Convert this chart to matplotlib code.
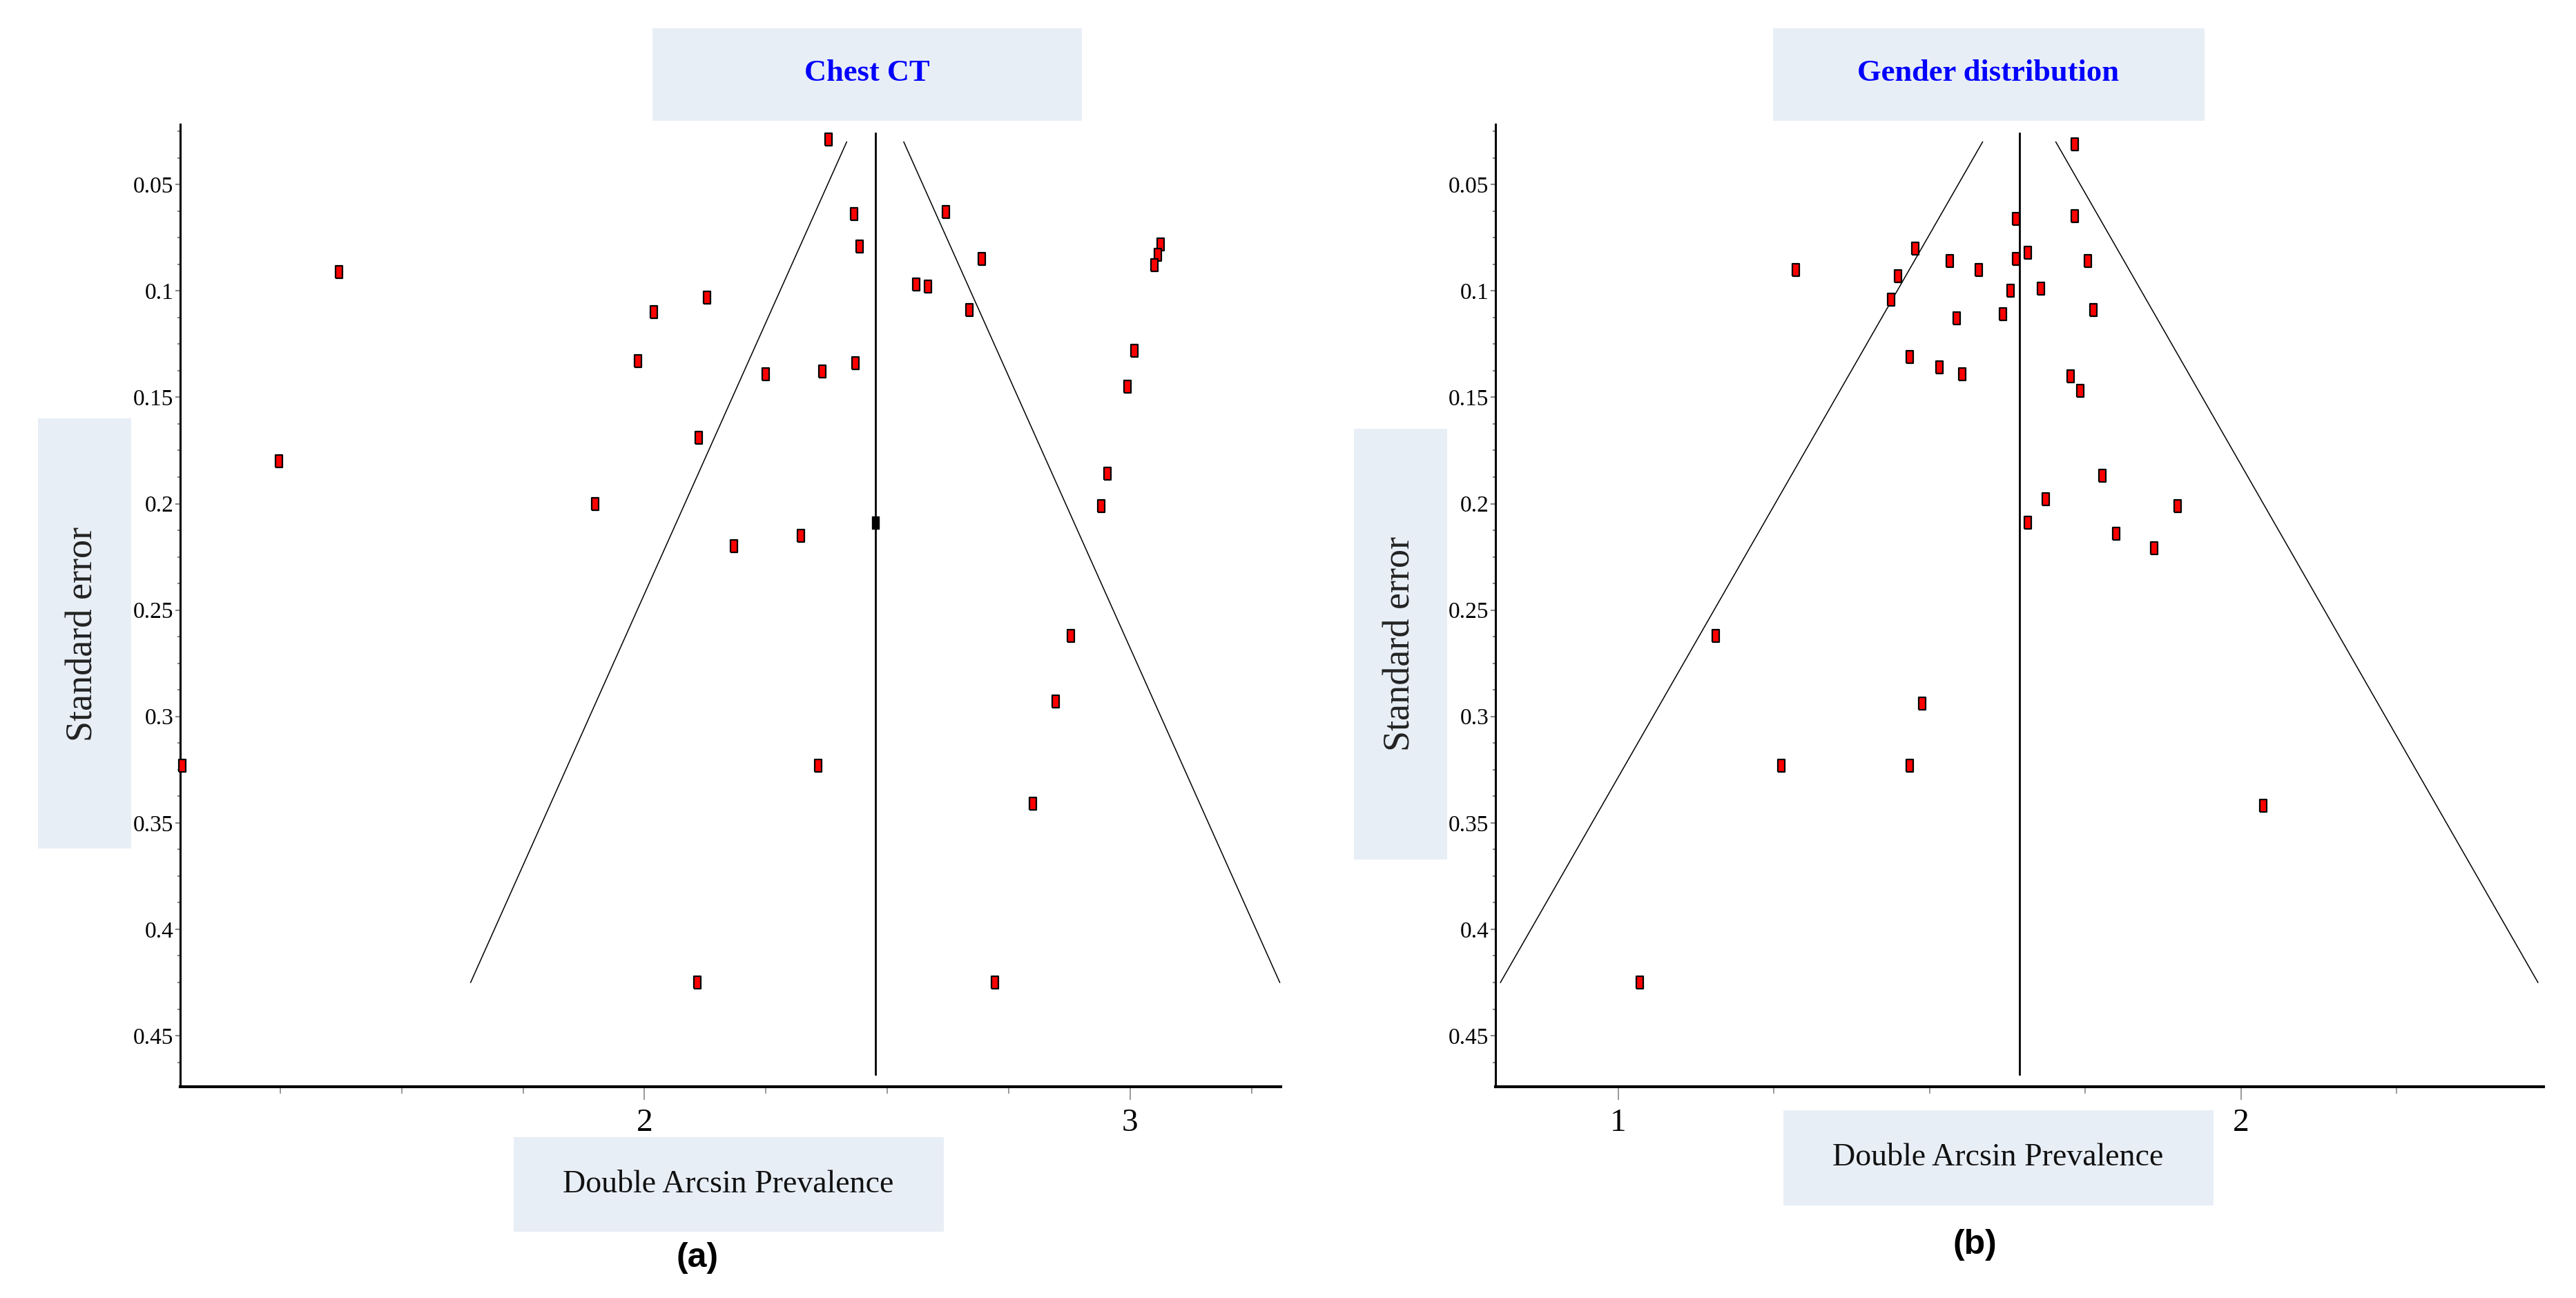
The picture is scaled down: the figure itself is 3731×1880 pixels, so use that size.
import numpy as np
import matplotlib
matplotlib.use("Agg")
import matplotlib.pyplot as plt
from matplotlib.patches import Rectangle
from matplotlib.ticker import MultipleLocator, FixedLocator, FixedFormatter

# ---------------- data ----------------
# Panel (a): Chest CT
a_x = [2.379, 2.431, 2.621, 2.443, 2.695, 3.062, 3.057, 3.050, 1.371, 2.560,
       2.583, 2.129, 2.019, 2.669, 3.009, 1.986, 2.434, 2.366, 2.250, 2.995,
       2.112, 1.247, 2.953, 1.898, 2.940, 2.322, 2.184, 2.878, 2.847, 1.048,
       2.357, 2.800, 2.109, 2.721]
a_se = [0.029, 0.064, 0.063, 0.079, 0.085, 0.078, 0.083, 0.088, 0.091, 0.097,
        0.098, 0.103, 0.110, 0.109, 0.128, 0.133, 0.134, 0.138, 0.139, 0.145,
        0.169, 0.180, 0.186, 0.200, 0.201, 0.215, 0.220, 0.262, 0.293, 0.323,
        0.323, 0.341, 0.425, 0.425]
a_pooled = 2.475
a_black_pt = (2.475, 0.209)

# Panel (b): Gender distribution
b_x = [1.733, 1.639, 1.733, 1.477, 1.658, 1.532, 1.639, 1.754, 1.285, 1.579,
       1.449, 1.630, 1.679, 1.438, 1.618, 1.544, 1.763, 1.468, 1.516, 1.552,
       1.727, 1.742, 1.778, 1.687, 1.898, 1.658, 1.800, 1.861, 1.157, 1.488,
       1.262, 1.468, 2.036, 1.035]
b_se = [0.031, 0.066, 0.065, 0.080, 0.082, 0.086, 0.085, 0.086, 0.090, 0.090,
        0.093, 0.100, 0.099, 0.104, 0.111, 0.113, 0.109, 0.131, 0.136, 0.139,
        0.140, 0.147, 0.187, 0.198, 0.201, 0.209, 0.214, 0.221, 0.262, 0.294,
        0.323, 0.323, 0.342, 0.425]
b_pooled = 1.644

ytick_vals = [0.05, 0.10, 0.15, 0.20, 0.25, 0.30, 0.35, 0.40, 0.45]
ytick_labels = ["0.05", "0.1", "0.15", "0.2", "0.25", "0.3", "0.35", "0.4", "0.45"]
a_xticks = [2, 3]
b_xticks = [1, 2]
titles = ["Chest CT", "Gender distribution"]
xlabel = "Double Arcsin Prevalence"
ylabel = "Standard error"
panel_tags = ["(a)", "(b)"]

# ---------------- layout ----------------
W, H = 3731, 1880
fig = plt.figure(figsize=(W / 100, H / 100), dpi=100)
fig.patch.set_facecolor("white")

def fx(px):
    return px / W

def fy(py):
    return 1 - py / H

BOX = "#E8EEF6"
SERIF = ["Liberation Serif", "DejaVu Serif"]

rect_marker = [(-0.28, -0.5), (0.28, -0.5), (0.28, 0.5), (-0.28, 0.5), (-0.28, -0.5)]

def draw_panel(ax, xs, ses, pooled, xlim, xticks):
    se_f = np.array([0.03, 0.425])
    ax.plot(pooled - 1.96 * se_f, se_f, color="black", lw=1.1)
    ax.plot(pooled + 1.96 * se_f, se_f, color="black", lw=1.1)
    ax.plot([pooled, pooled], [0.026, 0.468], color="black", lw=2.0)
    ax.plot(xs, ses, linestyle="none", marker=rect_marker, markersize=13,
            markerfacecolor="#FF0000", markeredgecolor="black",
            markeredgewidth=1.6, clip_on=False, zorder=3)
    ax.set_xlim(*xlim)
    ax.set_ylim(0.474, 0.0217)
    for s in ["top", "right"]:
        ax.spines[s].set_visible(False)
    ax.spines["left"].set_linewidth(2.2)
    ax.spines["bottom"].set_linewidth(3.0)
    ax.yaxis.set_major_locator(FixedLocator(ytick_vals))
    ax.yaxis.set_major_formatter(FixedFormatter(ytick_labels))
    ax.yaxis.set_minor_locator(MultipleLocator(0.0125))
    ax.xaxis.set_major_locator(FixedLocator(xticks))
    ax.xaxis.set_minor_locator(MultipleLocator(0.25))
    ax.tick_params(axis="y", which="major", length=5, width=1.5, color="#888888",
                   pad=2, labelsize=24)
    ax.tick_params(axis="y", which="minor", length=3, width=1.5, color="#888888")
    ax.tick_params(axis="x", which="major", length=14, width=1.2, color="#888888",
                   pad=9, labelsize=34)
    ax.tick_params(axis="x", which="minor", length=7, width=1.2, color="#888888")
    for lab in ax.get_yticklabels() + ax.get_xticklabels():
        lab.set_family(SERIF)

# Panel (a)
ax1 = fig.add_axes([fx(261), fy(1574), fx(1855 - 261), (1574 - 180) / H])
draw_panel(ax1, a_x, a_se, a_pooled, (1.044, 3.31), a_xticks)
ax1.plot([a_black_pt[0]], [a_black_pt[1]], linestyle="none", marker=rect_marker,
         markersize=13, markerfacecolor="black", markeredgecolor="black", zorder=4)

# Panel (b)
ax2 = fig.add_axes([fx(2166), fy(1574), fx(3684 - 2166), (1574 - 180) / H])
draw_panel(ax2, b_x, b_se, b_pooled, (0.803, 2.486), b_xticks)

def box(x0, y0, x1, y1):
    fig.patches.append(Rectangle((fx(x0), fy(y1)), fx(x1 - x0), (y1 - y0) / H,
                                 transform=fig.transFigure, facecolor=BOX,
                                 edgecolor="none", zorder=0))

# title boxes
box(945, 41, 1567, 175)
fig.text(fx(1256), fy(106), titles[0], ha="center", va="center", color="#0000FF",
         fontsize=32, fontweight="bold", family=SERIF)
box(2568, 41, 3193, 175)
fig.text(fx(2880), fy(106), titles[1], ha="center", va="center", color="#0000FF",
         fontsize=32, fontweight="bold", family=SERIF)

# y-label boxes
box(55, 606, 190, 1229)
fig.text(fx(120), fy(918), ylabel, ha="center", va="center", rotation=90,
         fontsize=39, color="#222222", family=SERIF)
box(1961, 621, 2096, 1245)
fig.text(fx(2028), fy(933), ylabel, ha="center", va="center", rotation=90,
         fontsize=39, color="#222222", family=SERIF)

# x-label boxes
box(744, 1647, 1367, 1784)
fig.text(fx(1055), fy(1716), xlabel, ha="center", va="center",
         fontsize=33, color="#111111", family=SERIF)
box(2583, 1608, 3206, 1746)
fig.text(fx(2894), fy(1677), xlabel, ha="center", va="center",
         fontsize=33, color="#111111", family=SERIF)

# panel tags
fig.text(fx(1010), fy(1822), panel_tags[0], ha="center", va="center",
         fontsize=36, fontweight="bold", family=["Liberation Sans", "DejaVu Sans"])
fig.text(fx(2860), fy(1803), panel_tags[1], ha="center", va="center",
         fontsize=36, fontweight="bold", family=["Liberation Sans", "DejaVu Sans"])

fig.savefig("out.png", dpi=100, facecolor="white")
